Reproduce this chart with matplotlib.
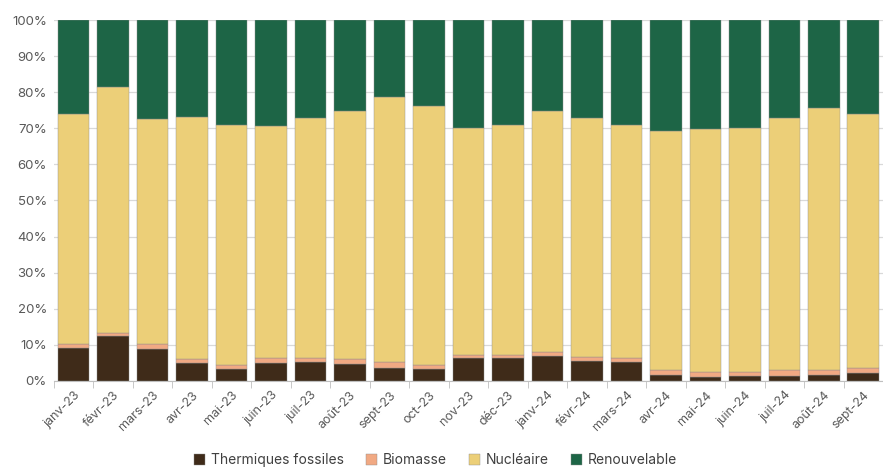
import numpy as np
import matplotlib.pyplot as plt
from matplotlib.ticker import PercentFormatter

plt.rcParams['font.family'] = ['Inter', 'DejaVu Sans']

mois = ['janv-23', 'févr-23', 'mars-23', 'avr-23', 'mai-23', 'juin-23', 'juil-23',
        'août-23', 'sept-23', 'oct-23', 'nov-23', 'déc-23', 'janv-24', 'févr-24',
        'mars-24', 'avr-24', 'mai-24', 'juin-24', 'juil-24', 'août-24', 'sept-24']

# parts mensuelles (%)
fossiles = [9.2, 12.3, 8.9, 4.9, 3.2, 4.9, 5.2, 4.6, 3.6, 3.3, 6.2, 6.2, 6.8, 5.5,
            5.2, 1.6, 0.9, 1.2, 1.4, 1.6, 2.0]
biomasse = [1.1, 1.0, 1.4, 1.2, 1.2, 1.5, 1.2, 1.5, 1.5, 1.1, 1.0, 1.0, 1.1, 1.1,
            1.2, 1.3, 1.6, 1.3, 1.5, 1.5, 1.5]
nucleaire = [63.8, 68.3, 62.3, 67.1, 66.6, 64.2, 66.6, 68.6, 73.5, 71.8, 62.8, 63.8,
             66.8, 66.3, 64.6, 66.3, 67.2, 67.7, 70.0, 72.5, 70.6]
renouvelable = [25.9, 18.4, 27.4, 26.8, 29.0, 29.4, 27.0, 25.3, 21.4, 23.8, 30.0,
                29.0, 25.3, 27.1, 29.0, 30.8, 30.3, 29.8, 27.1, 24.4, 25.9]

series = [('Thermiques fossiles', fossiles, '#3f2b19'),
          ('Biomasse', biomasse, '#f1a983'),
          ('Nucléaire', nucleaire, '#eccf78'),
          ('Renouvelable', renouvelable, '#1d6546')]

fig = plt.figure(figsize=(8.83, 4.70), dpi=100)
ax = fig.add_axes([0.061, 0.19, 0.939, 0.767])

x = np.arange(len(mois))
bottom = np.zeros(len(mois))
for nom, vals, col in series:
    vals = np.array(vals)
    ax.bar(x, vals, 0.8, bottom=bottom, color=col, label=nom,
           edgecolor='#8c8c8c', linewidth=0.3, zorder=3)
    bottom += vals

ax.set_ylim(0, 100)
ax.set_xlim(-0.5, len(mois) - 0.5)
ax.yaxis.set_major_formatter(PercentFormatter(decimals=0))
ax.set_yticks(np.arange(0, 101, 10))
ax.grid(axis='y', color='#d9d9d9', linewidth=0.9, zorder=0)
for s in ['top', 'right', 'left']:
    ax.spines[s].set_visible(False)
ax.spines['bottom'].set_color('#bfbfbf')
ax.tick_params(axis='y', length=0, labelsize=9.5, labelcolor='#595959', pad=5)
ax.set_xticks(x)
ax.set_xticklabels(mois, rotation=45, ha='right', rotation_mode='anchor',
                   fontsize=9, color='#595959')
ax.set_xticks(np.arange(-0.5, len(mois), 1), minor=True)
ax.tick_params(axis='x', which='major', length=0, pad=6)
ax.tick_params(axis='x', which='minor', length=5, color='#bfbfbf')

ax.legend(loc='lower center', bbox_to_anchor=(0.46, -0.275), ncol=4, frameon=False,
          fontsize=10, handlelength=0.8, handleheight=0.8, handletextpad=0.4,
          columnspacing=1.6, labelcolor='#404040')

fig.savefig('out.png', dpi=100)
